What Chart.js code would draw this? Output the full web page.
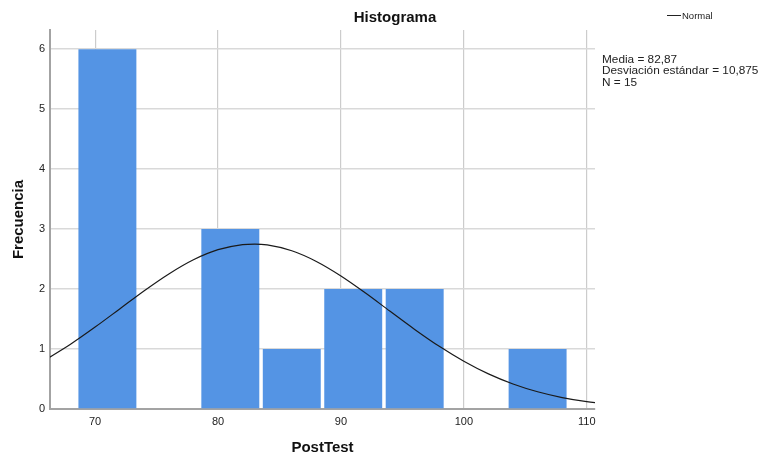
<!DOCTYPE html>
<html>
<head>
<meta charset="utf-8">
<title>Histograma</title>
<script src="https://cdn.jsdelivr.net/npm/chart.js@4.4.1/dist/chart.umd.min.js"></script>
<style>
  html, body { margin: 0; padding: 0; background: #ffffff; }
  #wrap { width: 763px; height: 455px; position: relative; }
</style>
</head>
<body>
<div id="wrap"><canvas id="hist" width="763" height="455"></canvas></div>
<script>
// Histogram bins of PostTest (bin width 5), centre of each bin
const binCenters = [71, 76, 81, 86, 91, 96, 101, 106];
const frequencies = [6, 0, 3, 1, 2, 2, 0, 1];

// Fitted normal curve (frequency scale), sampled along the axis
const curveX = [66, 68, 70, 72, 74, 76, 78, 80, 82, 83, 84, 86, 88, 90, 92, 94, 96, 98, 100, 102, 104, 106, 108, 110, 112];
const curveY = [0.826, 1.080, 1.366, 1.669, 1.973, 2.253, 2.489, 2.657, 2.742, 2.751, 2.736, 2.639, 2.461, 2.219, 1.934, 1.629, 1.327, 1.045, 0.796, 0.585, 0.417, 0.287, 0.191, 0.1225, 0.0761];

// Summary statistics shown beside the plot
const statLines = ['Media = 82,87', 'Desviación estándar = 10,875', 'N = 15'];
const legendLabel = 'Normal';
const chartTitle = 'Histograma';
const xTitle = 'PostTest';
const yTitle = 'Frecuencia';

const FONT = "'Liberation Sans', Arial, Helvetica, sans-serif";

const barData = binCenters.map((x, i) => ({ x: x, y: frequencies[i] }));
const curveData = curveX.map((x, i) => ({ x: x, y: curveY[i] }));

// Title, legend and statistics text drawn around the plot area
const sideText = {
  id: 'sideText',
  afterDraw(chart) {
    const ctx = chart.ctx;
    ctx.save();
    ctx.fillStyle = '#111';
    ctx.textBaseline = 'middle';
    ctx.textAlign = 'center';
    ctx.font = 'bold 15px ' + FONT;
    ctx.fillText(chartTitle, 395, 17.5);

    // legend entry
    ctx.strokeStyle = '#222';
    ctx.lineWidth = 1;
    ctx.beginPath();
    ctx.moveTo(667, 15.5);
    ctx.lineTo(681, 15.5);
    ctx.stroke();
    ctx.textAlign = 'left';
    ctx.fillStyle = '#222';
    ctx.font = '9.5px ' + FONT;
    ctx.fillText(legendLabel, 682, 16);

    // statistics
    ctx.font = '11.8px ' + FONT;
    statLines.forEach((t, i) => ctx.fillText(t, 602, 60 + i * 11.2));
    ctx.restore();
  }
};

new Chart(document.getElementById('hist'), {
  type: 'bar',
  data: {
    datasets: [
      {
        type: 'line',
        label: legendLabel,
        data: curveData,
        borderColor: '#1a1a1a',
        borderWidth: 1.2,
        pointRadius: 0,
        fill: false,
        cubicInterpolationMode: 'monotone',
        order: 0
      },
      {
        type: 'bar',
        label: 'Frecuencia',
        data: barData,
        backgroundColor: '#5494e4',
        borderWidth: 0,
        categoryPercentage: 1.0,
        barPercentage: 0.943,
        order: 1
      }
    ]
  },
  options: {
    responsive: false,
    animation: false,
    devicePixelRatio: 1,
    layout: { padding: { left: 0, right: 168, top: 30, bottom: 0 } },
    plugins: {
      legend: { display: false },
      title: { display: false },
      tooltip: { enabled: false }
    },
    scales: {
      x: {
        type: 'linear',
        min: 66.33,
        max: 110.67,
        offset: false,
        afterFit(scale) { scale.height = 46; },
        grid: { display: true, color: '#cccccc', lineWidth: 1.2, drawTicks: false, offset: false },
        border: { display: true, color: '#a3a3a3', width: 2 },
        ticks: {
          stepSize: 10,
          includeBounds: false,
          padding: 6,
          color: '#222',
          font: { family: FONT, size: 11 },
          maxRotation: 0
        },
        title: {
          display: true,
          text: xTitle,
          color: '#111',
          font: { family: FONT, size: 15, weight: 'bold', lineHeight: 1 },
          padding: { top: 0, bottom: 0 }
        }
      },
      y: {
        min: 0,
        max: 6.32,
        afterFit(scale) { scale.width = 50; },
        grid: { display: true, color: '#d9d9d9', lineWidth: 1.5, drawTicks: false },
        border: { display: true, color: '#a3a3a3', width: 2 },
        ticks: {
          stepSize: 1,
          includeBounds: false,
          padding: 5,
          color: '#222',
          font: { family: FONT, size: 11 }
        },
        title: {
          display: true,
          text: yTitle,
          color: '#111',
          font: { family: FONT, size: 15, weight: 'bold', lineHeight: 1 },
          padding: { top: 11, bottom: 0 }
        }
      }
    }
  },
  plugins: [sideText]
});
</script>
</body>
</html>
